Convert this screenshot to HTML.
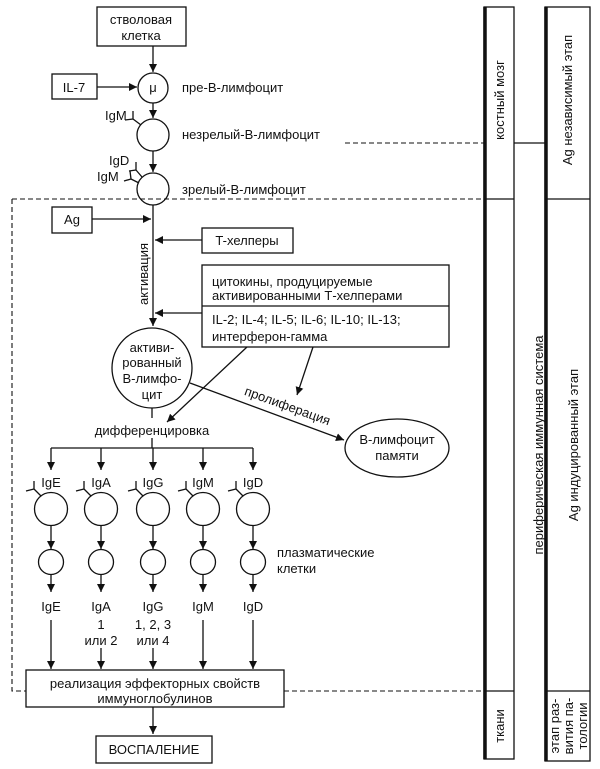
<!DOCTYPE html>
<html><head><meta charset="utf-8"><style>
html,body{margin:0;padding:0;background:#fff}
svg{display:block}
text{font-family:"Liberation Sans","DejaVu Sans",sans-serif;font-size:13px;fill:#111}
</style></head><body>
<svg width="600" height="769" viewBox="0 0 600 769" xmlns="http://www.w3.org/2000/svg">
<defs>
<marker id="a" viewBox="0 0 10 10" refX="10" refY="5" markerWidth="8" markerHeight="8" orient="auto" markerUnits="userSpaceOnUse"><path d="M0,0 L10,5 L0,10 z" fill="#111"/></marker>
</defs>
<g stroke="#111" stroke-width="1.3" fill="none">
<rect x="97" y="7" width="89" height="39"/>
<line x1="153" y1="46" x2="153" y2="72" marker-end="url(#a)"/>
<circle cx="153" cy="88" r="15"/>
<rect x="52" y="74" width="45" height="25"/>
<line x1="97" y1="87" x2="137" y2="87" marker-end="url(#a)"/>
<line x1="153" y1="103" x2="153" y2="118" marker-end="url(#a)"/>
<circle cx="153" cy="135" r="16"/>
<path d="M141,125 L133,119 M133,119 L125,120 M133,119 L133,111"/>
<line x1="153" y1="151" x2="153" y2="172" marker-end="url(#a)"/>
<circle cx="153" cy="189" r="16"/>
<path d="M142,177 L136,170 M136,170 L129,171 M136,170 L136,162"/>
<path d="M139,183 L131,179 M131,179 L124,181 M131,179 L130,171"/>
<path d="M12,199 L484,199 M12,199 L12,691 L26,691 M284,691 L484,691 M345,143 L484,143" stroke-dasharray="5,3" stroke-width="1.1"/>
<line x1="153" y1="205" x2="153" y2="326" marker-end="url(#a)"/>
<rect x="52" y="207" width="40" height="26"/>
<line x1="92" y1="219" x2="151" y2="219" marker-end="url(#a)"/>
<rect x="202" y="228" width="91" height="25"/>
<line x1="202" y1="240" x2="155" y2="240" marker-end="url(#a)"/>
<rect x="202" y="265" width="247" height="82"/>
<line x1="202" y1="306" x2="449" y2="306"/>
<line x1="202" y1="313" x2="155" y2="313" marker-end="url(#a)"/>
<ellipse cx="152" cy="368" rx="40" ry="40"/>
<line x1="247" y1="347" x2="167" y2="422" marker-end="url(#a)"/>
<line x1="313" y1="347" x2="297" y2="395" marker-end="url(#a)"/>
<line x1="190" y1="383" x2="344" y2="440" marker-end="url(#a)"/>
<ellipse cx="397" cy="448" rx="52" ry="29"/>
<line x1="152" y1="408" x2="152" y2="418"/>
<line x1="152" y1="438" x2="152" y2="448"/>
<line x1="51" y1="448" x2="253" y2="448"/>
<g>
<line x1="51" y1="448" x2="51" y2="470" marker-end="url(#a)"/>
<line x1="101" y1="448" x2="101" y2="470" marker-end="url(#a)"/>
<line x1="153" y1="448" x2="153" y2="470" marker-end="url(#a)"/>
<line x1="203" y1="448" x2="203" y2="470" marker-end="url(#a)"/>
<line x1="253" y1="448" x2="253" y2="470" marker-end="url(#a)"/>
</g>
<g id="c">
<circle cx="51" cy="509" r="16.5"/>
<path d="M41,496 L34,489 M34,489 L26,491 M34,489 L34,481"/>
<line x1="51" y1="526" x2="51" y2="549" marker-end="url(#a)"/>
<circle cx="51" cy="562" r="12.5"/>
<line x1="51" y1="575" x2="51" y2="592" marker-end="url(#a)"/>
</g>
<use href="#c" x="50"/>
<use href="#c" x="102"/>
<use href="#c" x="152"/>
<use href="#c" x="202"/>
<line x1="51" y1="620" x2="51" y2="669" marker-end="url(#a)"/>
<line x1="101" y1="648" x2="101" y2="669" marker-end="url(#a)"/>
<line x1="153" y1="648" x2="153" y2="669" marker-end="url(#a)"/>
<line x1="203" y1="620" x2="203" y2="669" marker-end="url(#a)"/>
<line x1="253" y1="620" x2="253" y2="669" marker-end="url(#a)"/>
<rect x="26" y="670" width="258" height="37"/>
<line x1="153" y1="707" x2="153" y2="734" marker-end="url(#a)"/>
<rect x="96" y="736" width="116" height="27"/>
<rect x="484" y="7" width="30" height="752"/>
<line x1="485" y1="7" x2="485" y2="759" stroke-width="3.5"/>
<line x1="484" y1="199" x2="514" y2="199"/>
<line x1="484" y1="691" x2="514" y2="691"/>
<rect x="545" y="7" width="45" height="754"/>
<line x1="546" y1="7" x2="546" y2="761" stroke-width="3.5"/>
<line x1="545" y1="199" x2="590" y2="199"/>
<line x1="545" y1="691" x2="590" y2="691"/>
<line x1="514" y1="143" x2="545" y2="143"/>
</g>
<g text-anchor="middle">
<text x="141" y="24">стволовая</text>
<text x="141" y="40">клетка</text>
<text x="74" y="92">IL-7</text>
<text x="153" y="92" font-size="11">μ</text>
<text x="72" y="224">Ag</text>
<text x="247" y="245">T-хелперы</text>
<text x="152" y="352">активи-</text>
<text x="152" y="367">рованный</text>
<text x="152" y="383">В-лимфо-</text>
<text x="152" y="399">цит</text>
<text x="397" y="444">В-лимфоцит</text>
<text x="397" y="460">памяти</text>
<text x="152" y="435">дифференцировка</text>
<text x="51" y="487">IgE</text><text x="101" y="487">IgA</text><text x="153" y="487">IgG</text><text x="203" y="487">IgM</text><text x="253" y="487">IgD</text>
<text x="51" y="611">IgE</text><text x="101" y="611">IgA</text><text x="153" y="611">IgG</text><text x="203" y="611">IgM</text><text x="253" y="611">IgD</text>
<text x="101" y="629">1</text><text x="101" y="645">или 2</text>
<text x="153" y="629">1, 2, 3</text><text x="153" y="645">или 4</text>
<text x="155" y="688">реализация эффекторных свойств</text>
<text x="155" y="703">иммуноглобулинов</text>
<text x="154" y="754">ВОСПАЛЕНИЕ</text>
</g>
<text x="182" y="92">пре-В-лимфоцит</text>
<text x="182" y="139">незрелый-В-лимфоцит</text>
<text x="182" y="194">зрелый-В-лимфоцит</text>
<text x="105" y="120" font-size="12">IgM</text>
<text x="109" y="165" font-size="12">IgD</text>
<text x="97" y="181" font-size="12">IgM</text>
<text x="212" y="286">цитокины, продуцируемые</text>
<text x="212" y="300">активированными Т-хелперами</text>
<text x="212" y="324">IL-2; IL-4; IL-5; IL-6; IL-10; IL-13;</text>
<text x="212" y="341">интерферон-гамма</text>
<text x="277" y="557">плазматические</text>
<text x="277" y="573">клетки</text>
<text transform="translate(286,410) rotate(20)" text-anchor="middle">пролиферация</text>
<text transform="translate(148,274) rotate(-90)" text-anchor="middle">активация</text>
<g text-anchor="middle">
<text transform="translate(504,100) rotate(-90)">костный мозг</text>
<text transform="translate(572,100) rotate(-90)">Ag независимый этап</text>
<text transform="translate(543,445) rotate(-90)">периферическая иммунная система</text>
<text transform="translate(578,445) rotate(-90)">Ag индуцированный этап</text>
<text transform="translate(504,726) rotate(-90)">ткани</text>
<text transform="translate(559,726) rotate(-90)" font-size="12">этап раз-</text>
<text transform="translate(573,726) rotate(-90)" font-size="12">вития па-</text>
<text transform="translate(587,726) rotate(-90)" font-size="12">тологии</text>
</g>
</svg>
</body></html>
